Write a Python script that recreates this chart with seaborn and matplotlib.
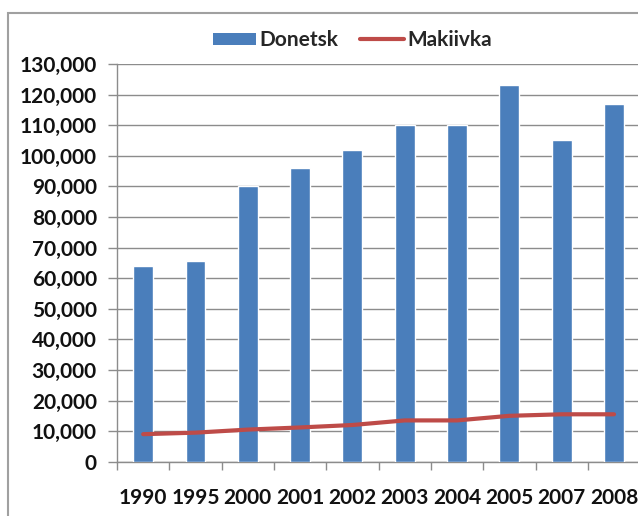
import numpy as np
import pandas as pd
import seaborn as sns
import matplotlib.pyplot as plt
from matplotlib.patches import Patch, Rectangle
from matplotlib.lines import Line2D
from matplotlib.ticker import FuncFormatter

years = ["1990", "1995", "2000", "2001", "2002", "2003", "2004", "2005", "2007", "2008"]
donetsk = [64000, 65500, 90000, 96000, 102000, 110000, 110000, 123000, 105000, 117000]
makiivka = [9000, 9500, 10500, 11200, 12000, 13500, 13500, 15000, 15500, 15500]

blue = "#4A7EBB"
red = "#BE4B48"
grey = "#8C8C8C"

sns.set_style("white")
plt.rcParams['font.family'] = ['Lato', 'DejaVu Sans']
plt.rcParams['font.weight'] = 'bold'

df = pd.DataFrame({'Year': years, 'Donetsk': donetsk, 'Makiivka': makiivka})

fig = plt.figure(figsize=(6.38, 5.16), dpi=100)
ax = fig.add_axes([0.1834, 0.1052, 0.82, 0.7708])

sns.barplot(data=df, x='Year', y='Donetsk', color=blue, width=0.38,
            saturation=1, ax=ax, zorder=3)
sns.lineplot(x=np.arange(len(years)), y=makiivka, color=red, linewidth=3,
             ax=ax, zorder=4)

ax.set_xlim(-0.5, len(years) - 0.5)
ax.set_ylim(0, 130000)
ax.set_yticks(np.arange(0, 130001, 10000))
ax.yaxis.set_major_formatter(FuncFormatter(lambda v, p: f"{int(v):,}"))
ax.grid(axis='y', color=grey, linewidth=1, zorder=0)
ax.set_axisbelow(True)
ax.set_xlabel("")
ax.set_ylabel("")

for s in ['top', 'right']:
    ax.spines[s].set_visible(False)
for s in ['left', 'bottom']:
    ax.spines[s].set_color(grey)
    ax.spines[s].set_linewidth(1)

ax.tick_params(axis='y', which='major', length=6.5, width=1, color=grey,
               pad=8, labelsize=15, left=True)
ax.tick_params(axis='x', which='major', length=0, pad=19, labelsize=15)
ax.set_xticks(np.arange(-0.5, len(years)), minor=True)
ax.tick_params(axis='x', which='minor', length=6, width=1, color=grey,
               bottom=True, direction='out')
for lab in ax.get_xticklabels() + ax.get_yticklabels():
    lab.set_fontweight('bold')
    lab.set_color('#111111')

handles = [Patch(facecolor=blue, edgecolor='none'),
           Line2D([0], [0], color=red, linewidth=3)]
fig.legend(handles, ['Donetsk', 'Makiivka'], loc='center',
           bbox_to_anchor=(0.552, 0.922), ncol=2, frameon=False,
           prop={'size': 15, 'weight': 'bold'}, handlelength=2.1,
           handleheight=0.55, handletextpad=0.15, columnspacing=1.05,
           borderaxespad=0, borderpad=0)

fig.patches.append(Rectangle((8 / 638, -0.1), 1.2, 1 - 13 / 516 + 0.1,
                             transform=fig.transFigure, fill=False,
                             edgecolor='#A0A0A0', linewidth=1.5))

fig.savefig("out.png", dpi=100)
